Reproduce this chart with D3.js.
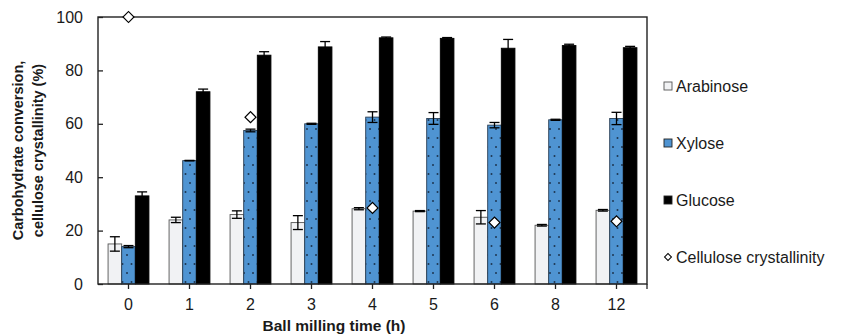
<!DOCTYPE html>
<html>
<head>
<meta charset="utf-8">
<script src="https://cdn.jsdelivr.net/npm/d3@7"></script>
<style>
  body { margin: 0; background: #fff; }
  text { font-family: "Liberation Sans", Arial, sans-serif; fill: #1a1a1a; }
</style>
</head>
<body>
<script>
// chart data
var times = ["0", "1", "2", "3", "4", "5", "6", "8", "12"];
var arabinose = [15, 24, 26, 23, 28.2, 27.3, 25, 22, 27.6];
var arabinoseErr = [2.7, 1, 1.4, 2.6, 0.4, 0.2, 2.5, 0.3, 0.3];
var xylose = [14, 46.2, 57.5, 60, 62.5, 62, 59.5, 61.5, 62];
var xyloseErr = [0.4, 0.1, 0.5, 0.2, 2, 2.2, 1, 0.2, 2.3];
var glucose = [33, 72, 85.7, 88.8, 92.2, 92, 88.3, 89.3, 88.5];
var glucoseErr = [1.5, 1, 1.3, 2, 0.3, 0.3, 3.3, 0.5, 0.5];
var crystTimes = ["0", "2", "4", "6", "12"];
var crystallinity = [100, 62.5, 28.5, 23, 23.5];
var yTicks = [0, 20, 40, 60, 80, 100];

var svgWidth = 843, svgHeight = 335;
var margin = { top: 17, right: 196, bottom: 51, left: 98 };
var width = svgWidth - margin.left - margin.right;
var height = svgHeight - margin.top - margin.bottom;

var svg = d3.select("body").append("svg")
  .attr("width", svgWidth)
  .attr("height", svgHeight);

var defs = svg.append("defs");
var pat = defs.append("pattern")
  .attr("id", "dots")
  .attr("patternUnits", "userSpaceOnUse")
  .attr("width", 9).attr("height", 18);
pat.append("rect").attr("width", 9).attr("height", 18).attr("fill", "#4f94d2");
pat.append("circle").attr("cx", 2).attr("cy", 4).attr("r", 1).attr("fill", "#1d3550");
pat.append("circle").attr("cx", 6.5).attr("cy", 13).attr("r", 1).attr("fill", "#1d3550");

var chartGroup = svg.append("g")
  .attr("transform", `translate(${margin.left}, ${margin.top})`);

var xScale = d3.scaleBand()
  .domain(times)
  .range([0, width])
  .paddingInner(0.33)
  .paddingOuter(0.165);

var series = [
  { name: "Arabinose", values: arabinose, err: arabinoseErr, fill: "#f1f2f4", stroke: "#555" },
  { name: "Xylose", values: xylose, err: xyloseErr, fill: "url(#dots)", stroke: "#2a3f55" },
  { name: "Glucose", values: glucose, err: glucoseErr, fill: "#000", stroke: "#000" }
];

var xSub = d3.scaleBand()
  .domain(series.map(s => s.name))
  .range([0, xScale.bandwidth()]);

var yScale = d3.scaleLinear().domain([0, 100]).range([height, 0]);

// bars
series.forEach(function(s) {
  var g = chartGroup.append("g");
  g.selectAll("rect")
    .data(times)
    .enter()
    .append("rect")
    .attr("x", (d, i) => xScale(d) + xSub(s.name))
    .attr("y", (d, i) => yScale(s.values[i]))
    .attr("width", xSub.bandwidth())
    .attr("height", (d, i) => height - yScale(s.values[i]))
    .attr("fill", s.fill)
    .attr("stroke", s.stroke)
    .attr("stroke-width", 0.9);

  // error bars
  var eb = g.selectAll("g.err")
    .data(times)
    .enter()
    .append("g");
  eb.append("line")
    .attr("x1", d => xScale(d) + xSub(s.name) + xSub.bandwidth() / 2)
    .attr("x2", d => xScale(d) + xSub(s.name) + xSub.bandwidth() / 2)
    .attr("y1", (d, i) => yScale(s.values[i] - s.err[i]))
    .attr("y2", (d, i) => yScale(s.values[i] + s.err[i]));
  eb.append("line")
    .attr("x1", d => xScale(d) + xSub(s.name) + xSub.bandwidth() / 2 - 5)
    .attr("x2", d => xScale(d) + xSub(s.name) + xSub.bandwidth() / 2 + 5)
    .attr("y1", (d, i) => yScale(s.values[i] + s.err[i]))
    .attr("y2", (d, i) => yScale(s.values[i] + s.err[i]));
  eb.append("line")
    .attr("x1", d => xScale(d) + xSub(s.name) + xSub.bandwidth() / 2 - 5)
    .attr("x2", d => xScale(d) + xSub(s.name) + xSub.bandwidth() / 2 + 5)
    .attr("y1", (d, i) => yScale(s.values[i] - s.err[i]))
    .attr("y2", (d, i) => yScale(s.values[i] - s.err[i]));
  eb.selectAll("line")
    .attr("stroke", "#000")
    .attr("stroke-width", 1.3);
});

// frame
chartGroup.append("rect")
  .attr("width", width).attr("height", height)
  .attr("fill", "none")
  .attr("stroke", "#222")
  .attr("stroke-width", 1.4);

// axes
var leftAxis = d3.axisLeft(yScale).tickValues(yTicks).tickSize(-5).tickPadding(15);
var yAxis = chartGroup.append("g").call(leftAxis);
yAxis.select(".domain").remove();
yAxis.selectAll("line").attr("stroke", "#222").attr("stroke-width", 1.3);
yAxis.selectAll("text").style("font-size", "16px").attr("fill", "#1a1a1a");

var bottomAxis = d3.axisBottom(xScale).tickSize(5).tickPadding(10);
var xAxis = chartGroup.append("g")
  .attr("transform", `translate(0, ${height})`)
  .call(bottomAxis);
xAxis.select(".domain").remove();
xAxis.selectAll("line").attr("stroke", "#222").attr("stroke-width", 1.3);
xAxis.selectAll("text").style("font-size", "16px").attr("fill", "#1a1a1a");
// band edge tick at the right end
xAxis.append("line")
  .attr("x1", width).attr("x2", width).attr("y1", 0).attr("y2", 5)
  .attr("stroke", "#222").attr("stroke-width", 1.3);

// cellulose crystallinity diamonds
var diamond = d3.symbol().type(d3.symbolSquare).size(60);
chartGroup.selectAll("path.cryst")
  .data(crystTimes)
  .enter()
  .append("path")
  .attr("d", diamond)
  .attr("transform", (d, i) => `translate(${xScale(d) + xScale.bandwidth() / 2}, ${yScale(crystallinity[i])}) rotate(45)`)
  .attr("fill", "#fff")
  .attr("stroke", "#000")
  .attr("stroke-width", 1.2);

// axis titles
svg.append("text")
  .attr("x", 334).attr("y", 331)
  .attr("text-anchor", "middle")
  .style("font-size", "15.5px").style("font-weight", "bold")
  .text("Ball milling time (h)");

var yTitle = svg.append("text")
  .attr("transform", `translate(23, ${margin.top + height / 2}) rotate(-90)`)
  .attr("text-anchor", "middle")
  .style("font-size", "14.5px").style("font-weight", "bold");
yTitle.append("tspan").attr("x", 0).attr("dy", 0).text("Carbohydrate conversion,");
yTitle.append("tspan").attr("x", 0).attr("dy", 20).text("cellulose crystallinity (%)");

// legend
var legendY = [86, 143, 200, 257];
var legend = svg.append("g");
series.forEach(function(s, i) {
  legend.append("rect")
    .attr("x", 664).attr("y", legendY[i] - 4)
    .attr("width", 8).attr("height", 8)
    .attr("fill", s.name === "Xylose" ? "#4f94d2" : s.fill)
    .attr("stroke", s.name === "Arabinose" ? "#555" : "#222")
    .attr("stroke-width", 0.9);
  legend.append("text")
    .attr("x", 676).attr("y", legendY[i] + 6)
    .style("font-size", "16px")
    .text(s.name);
});
legend.append("path")
  .attr("d", d3.symbol().type(d3.symbolSquare).size(24))
  .attr("transform", `translate(668, ${legendY[3]}) rotate(45)`)
  .attr("fill", "#fff").attr("stroke", "#000").attr("stroke-width", 1);
legend.append("text")
  .attr("x", 676).attr("y", legendY[3] + 6)
  .style("font-size", "16px")
  .text("Cellulose crystallinity");
</script>
</body>
</html>
